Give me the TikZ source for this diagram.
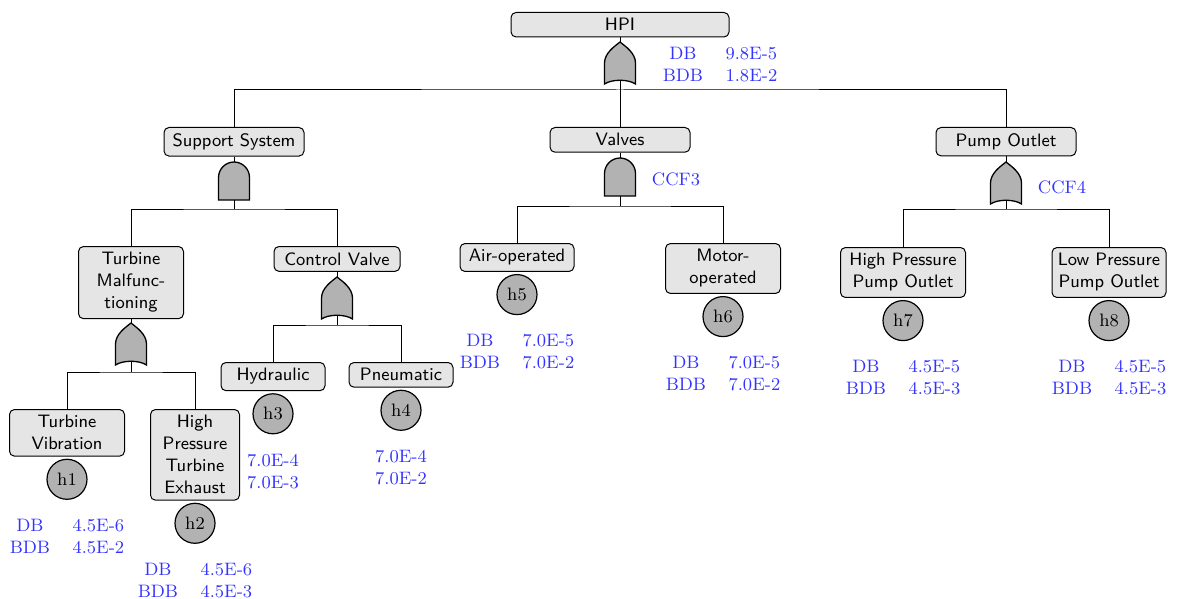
\documentclass[tikz,border=0pt]{standalone}
\usetikzlibrary{positioning}
\newcommand{\dbtab}[2]{\begin{tabular}{@{}c@{\hspace{11.25pt}}c@{}}DB & #1\\ BDB & #2\end{tabular}}
\newcommand{\vtab}[2]{\begin{tabular}{@{}c@{}}#1\\ #2\end{tabular}}
\begin{document}
\begin{tikzpicture}[x=0.5pt,y=-0.5pt, line width=0.5pt,
  box/.style={draw, fill=black!10, rounded corners=2.5pt, inner xsep=2pt, inner ysep=3pt,
    font=\sffamily\fontsize{9}{11}\selectfont, align=center, anchor=north},
  ev/.style={draw, line width=0.6pt, circle, fill=black!30, minimum size=20pt, inner sep=0pt,
    font=\fontsize{9}{11}\selectfont, below=1pt of #1},
  lbl/.style={text=blue!80, font=\fontsize{9}{11}\selectfont, inner sep=0pt},
  gatefill/.style={draw, line width=0.65pt, fill=black!30},
  orgate/.pic={
    \path[gatefill] (-15.5,42) .. controls (-8,37) and (8,37) .. (15.5,42)
      -- (15.5,21) .. controls (15.5,11) and (5,4) .. (0,0)
      .. controls (-5,4) and (-15.5,11) .. (-15.5,21) -- cycle;
    \coordinate (-in) at (0,0);
    \coordinate (-out) at (0,38.3);},
  andgate/.pic={
    \path[gatefill] (-15.5,38) -- (-15.5,15.5) .. controls (-15.5,7) and (-8.5,0) .. (0,0)
      .. controls (8.5,0) and (15.5,7) .. (15.5,15.5) -- (15.5,38) -- cycle;
    \coordinate (-in) at (0,0);
    \coordinate (-out) at (0,38);}
]
\useasboundingbox (0,0) rectangle (1177,599);

% boxes
\node[box, minimum width=109pt] (hpi) at (620,12) {HPI};
\node[box, minimum width=70pt] (ss) at (234,127) {Support System};
\node[box, minimum width=70pt] (va) at (620,127) {Valves};
\node[box, minimum width=70pt] (po) at (1006,127) {Pump Outlet};
\node[box, minimum width=52.5pt] (tm) at (131,246) {Turbine\\Malfunc-\\tioning};
\node[box, minimum width=63pt] (cv) at (337,246) {Control Valve};
\node[box, minimum width=57pt] (ao) at (517,243) {Air-operated};
\node[box, minimum width=57.5pt] (mo) at (723,243) {Motor-\\operated};
\node[box, minimum width=62.5pt] (hp) at (903,247) {High Pressure\\Pump Outlet};
\node[box, minimum width=57pt] (lp) at (1109,247) {Low Pressure\\Pump Outlet};
\node[box, minimum width=52pt] (hy) at (273,362) {Hydraulic};
\node[box, minimum width=52pt] (pn) at (401,362) {Pneumatic};
\node[box, minimum width=57.5pt] (tv) at (67,409) {Turbine\\Vibration};
\node[box, minimum width=44.5pt] (hx) at (195,409) {High\\Pressure\\Turbine\\Exhaust};

% gates
\pic (g0) at (620,42) {orgate};
\pic (g1) at (234,162) {andgate};
\pic (g2) at (620,158) {andgate};
\pic (g3) at (1006,162) {orgate};
\pic (g4) at (131,323) {orgate};
\pic (g5) at (337,277) {orgate};

% bar points
\coordinate (b0) at (620,90);
\coordinate (b1) at (234,209);
\coordinate (b2) at (620,206);
\coordinate (b3) at (1006,209);
\coordinate (b4) at (131,372);
\coordinate (b5) at (337,325);

% connectors
\draw (hpi.south) -- (g0-in);
\draw (g0-out) -- (b0);
\draw (ss.north) |- (b0) -| (po.north);
\draw (b0) -- (va.north);
\draw (ss.south) -- (g1-in);
\draw (g1-out) -- (b1);
\draw (tm.north) |- (b1) -| (cv.north);
\draw (va.south) -- (g2-in);
\draw (g2-out) -- (b2);
\draw (ao.north) |- (b2) -| (mo.north);
\draw (po.south) -- (g3-in);
\draw (g3-out) -- (b3);
\draw (hp.north) |- (b3) -| (lp.north);
\draw (tm.south) -- (g4-in);
\draw (g4-out) -- (b4);
\draw (tv.north) |- (b4) -| (hx.north);
\draw (cv.south) -- (g5-in);
\draw (g5-out) -- (b5);
\draw (hy.north) |- (b5) -| (pn.north);

% basic events
\node[ev=tv] (h1) {h1};
\node[ev=hx] (h2) {h2};
\node[ev=hy] (h3) {h3};
\node[ev=pn] (h4) {h4};
\node[ev=ao] (h5) {h5};
\node[ev=mo] (h6) {h6};
\node[ev=hp] (h7) {h7};
\node[ev=lp] (h8) {h8};

% labels
\node[lbl] (l0) at (720,66) {\dbtab{9.8E-5}{1.8E-2}};
\node[lbl] (ccf3) at (676,179) {CCF3};
\node[lbl] (ccf4) at (1062,187) {CCF4};
\node[lbl] (l1) at ([yshift=-29.25pt]h1.center) {\dbtab{4.5E-6}{4.5E-2}};
\node[lbl] (l2) at ([yshift=-29.25pt]h2.center) {\dbtab{4.5E-6}{4.5E-3}};
\node[lbl] (l3) at ([yshift=-29.6pt]h3.center) {\vtab{7.0E-4}{7.0E-3}};
\node[lbl] (l4) at ([yshift=-29.6pt]h4.center) {\vtab{7.0E-4}{7.0E-2}};
\node[lbl] (l5) at ([yshift=-29.25pt]h5.center) {\dbtab{7.0E-5}{7.0E-2}};
\node[lbl] (l6) at ([yshift=-29.25pt]h6.center) {\dbtab{7.0E-5}{7.0E-2}};
\node[lbl] (l7) at ([yshift=-29.25pt]h7.center) {\dbtab{4.5E-5}{4.5E-3}};
\node[lbl] (l8) at ([yshift=-29.25pt]h8.center) {\dbtab{4.5E-5}{4.5E-3}};
\end{tikzpicture}
\end{document}
